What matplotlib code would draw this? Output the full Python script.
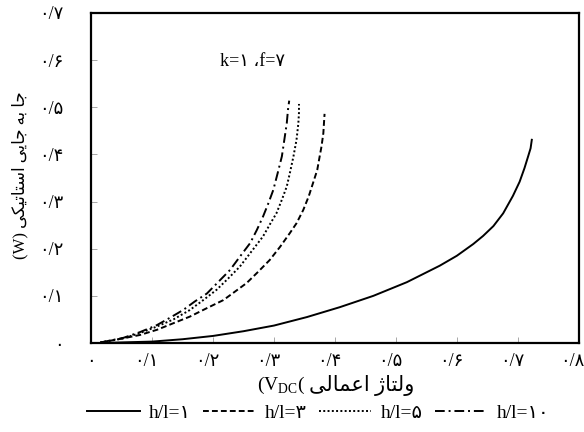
import matplotlib
matplotlib.use("Agg")
import matplotlib.pyplot as plt
import matplotlib.transforms as mtransforms

# values
x_h1 = [0.015, 0.10, 0.15, 0.20, 0.25, 0.30, 0.354, 0.408, 0.463, 0.518, 0.572, 0.600,
        0.627, 0.643, 0.660, 0.676, 0.692, 0.703, 0.711, 0.717, 0.721, 0.723]
y_h1 = [0.0, 0.003, 0.008, 0.015, 0.025, 0.037, 0.055, 0.076, 0.100, 0.129, 0.164, 0.185,
        0.210, 0.227, 0.248, 0.275, 0.312, 0.342, 0.371, 0.396, 0.413, 0.431]

x_h3 = [0.015, 0.053, 0.080, 0.108, 0.135, 0.162, 0.190, 0.217, 0.236, 0.255, 0.274,
        0.293, 0.310, 0.326, 0.337, 0.348, 0.357, 0.364, 0.371, 0.375, 0.378, 0.381,
        0.382, 0.383]
y_h3 = [0.001, 0.010, 0.017, 0.028, 0.042, 0.056, 0.074, 0.091, 0.109, 0.127, 0.151,
        0.176, 0.204, 0.233, 0.254, 0.282, 0.311, 0.339, 0.367, 0.396, 0.417, 0.445,
        0.466, 0.486]

x_h5 = [0.015, 0.053, 0.080, 0.108, 0.135, 0.162, 0.184, 0.206, 0.225, 0.244, 0.263,
        0.282, 0.293, 0.304, 0.313, 0.321, 0.326, 0.332, 0.337, 0.340, 0.341, 0.341]
y_h5 = [0.001, 0.010, 0.021, 0.035, 0.050, 0.070, 0.091, 0.113, 0.137, 0.162, 0.194,
        0.226, 0.251, 0.275, 0.304, 0.332, 0.360, 0.396, 0.431, 0.466, 0.488, 0.507]

x_h10 = [0.015, 0.053, 0.080, 0.108, 0.130, 0.151, 0.170, 0.190, 0.209, 0.228, 0.244,
         0.261, 0.272, 0.282, 0.291, 0.299, 0.306, 0.313, 0.317, 0.321, 0.323, 0.325]
y_h10 = [0.001, 0.011, 0.023, 0.038, 0.054, 0.070, 0.088, 0.105, 0.130, 0.155, 0.183,
         0.212, 0.240, 0.268, 0.297, 0.325, 0.360, 0.396, 0.431, 0.466, 0.495, 0.514]

series_labels = ["h/l=۱", "h/l=۳", "h/l=۵", "h/l=۱۰"]
x_ticks = [0, 0.1, 0.2, 0.3, 0.4, 0.5, 0.6, 0.7, 0.8]
y_ticks = [0, 0.1, 0.2, 0.3, 0.4, 0.5, 0.6, 0.7]
x_tick_labels = ["۰", "۰/۱", "۰/۲", "۰/۳", "۰/۴", "۰/۵", "۰/۶", "۰/۷", "۰/۸"]
y_tick_labels = ["۰", "۰/۱", "۰/۲", "۰/۳", "۰/۴", "۰/۵", "۰/۶", "۰/۷"]

# Persian words written with presentation forms (logical order), reversed for display
ylabel_fa = "ﺟﺎ ﺑﻪ ﺟﺎﯾﯽ ﺍﺳﺘﺎﺗﯿﮑﯽ"
xlabel_fa = "ﻭﻟﺘﺎﮊ ﺍﻋﻤﺎﻟﯽ"
note_text = "k=۱ ،f=۷"

fonts = ["Liberation Serif", "DejaVu Sans"]
plt.rcParams["font.family"] = fonts


def fa(s):
    return s[::-1]


fig = plt.figure(figsize=(5.84, 4.32), dpi=100)
ax = fig.add_axes([0.156, 0.206, 0.835, 0.764])

ax.plot(x_h1, y_h1, color="black", lw=1.4, linestyle="-", label=series_labels[0])
ax.plot(x_h3, y_h3, color="black", lw=1.4, linestyle=(0, (3, 1.6)), label=series_labels[1])
ax.plot(x_h5, y_h5, color="black", lw=1.4, linestyle=(0, (1, 1.2)), label=series_labels[2])
ax.plot(x_h10, y_h10, color="black", lw=1.4, linestyle=(0, (5, 2, 1, 2)), label=series_labels[3])

ax.set_xlim(0, 0.8)
ax.set_ylim(0, 0.7)
ax.set_xticks(x_ticks)
ax.set_xticklabels(x_tick_labels, fontsize=13)
ax.set_yticks(y_ticks)
ax.set_yticklabels(y_tick_labels, fontsize=13)
ax.tick_params(direction="in", length=4, width=0.6, color="#999999")
ax.tick_params(axis="y", pad=20)
ax.tick_params(axis="x", pad=7)
for sp in ax.spines.values():
    sp.set_linewidth(1.6)

# x tick labels (except zero) sit a little left of their ticks in the reference
shift = mtransforms.ScaledTranslation(-0.06, 0, fig.dpi_scale_trans)
for lab in ax.get_xticklabels()[1:]:
    lab.set_transform(lab.get_transform() + shift)

ax.text(0.264, 0.597, note_text, fontsize=13, ha="center", va="center")

# y label: "(W)" followed by the reversed Persian words
fig.text(0.034, 0.595, "(W) " + fa(ylabel_fa), rotation=90, fontsize=12,
         ha="center", va="center")

# x label in two pieces so the subscript can use mathtext
fig.text(0.522, 0.108, "(V$_{\\mathregular{DC}}$(", fontsize=14, ha="right", va="center",
         family="Liberation Serif")
fig.text(0.529, 0.108, fa(xlabel_fa), fontsize=15, ha="left", va="center")

fig.legend(loc="center", bbox_to_anchor=(0.545, 0.044), ncol=4, frameon=False,
           fontsize=14, handlelength=2.7, handletextpad=0.5, columnspacing=0.6)

fig.savefig("out.png", dpi=100)
